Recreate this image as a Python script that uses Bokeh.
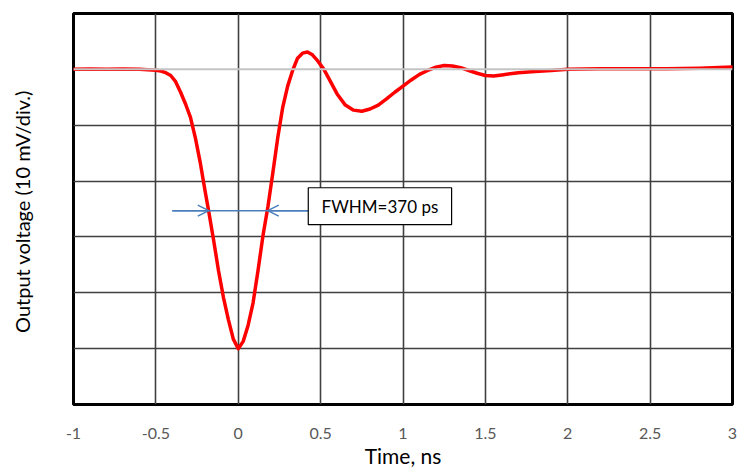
from bokeh.plotting import figure
from bokeh.models import (FixedTicker, Span, Arrow, OpenHead, BoxAnnotation, Label)
from bokeh.embed import file_html
from bokeh.resources import INLINE

# Data (time in ns, voltage in mV)
time_ns = [-1.0, -0.9, -0.8, -0.7, -0.6, -0.55, -0.5, -0.47, -0.44, -0.41, -0.38,
           -0.35, -0.32, -0.29, -0.26, -0.23, -0.2, -0.18, -0.15, -0.12, -0.09,
           -0.06, -0.03, 0.0, 0.03, 0.06, 0.09, 0.12, 0.15, 0.18, 0.21, 0.24,
           0.27, 0.30, 0.33, 0.36, 0.39, 0.42, 0.45, 0.48, 0.50, 0.52, 0.56,
           0.60, 0.65, 0.70, 0.75, 0.80, 0.85, 0.90, 0.95, 1.0, 1.05, 1.1,
           1.15, 1.2, 1.25, 1.3, 1.35, 1.4, 1.45, 1.5, 1.55, 1.6, 1.7, 1.8,
           1.9, 2.0, 2.2, 2.4, 2.6, 2.8, 3.0]
voltage_mv = [0.0, 0.05, 0.0, 0.05, 0.0, -0.05, -0.15, -0.3, -0.6, -1.1, -2.2,
              -4.1, -6.2, -8.6, -12.3, -16.8, -22.0, -25.3, -30.5, -36.0, -40.8,
              -44.8, -48.3, -50.0, -48.7, -45.8, -41.8, -36.0, -29.8, -24.6, -18.5, -12.2,
              -6.8, -3.0, -0.2, 2.0, 2.9, 3.1, 2.6, 1.6, 0.8, 0.0, -2.2,
              -4.4, -6.4, -7.3, -7.5, -7.1, -6.4, -5.3, -4.1, -3.0, -1.9, -0.9,
              -0.2, 0.4, 0.7, 0.6, 0.3, -0.2, -0.7, -1.1, -1.2, -1.0, -0.6, -0.4,
              -0.2, 0.0, 0.1, 0.1, 0.1, 0.2, 0.4]

x_ticks = [-1, -0.5, 0, 0.5, 1, 1.5, 2, 2.5, 3]
x_tick_labels = ["-1", "-0.5", "0", "0.5", "1", "1.5", "2", "2.5", "3"]
y_grid = [-60, -50, -40, -30, -20, -10, 0, 10]
half_max = -25.3
fwhm_left = -0.179
fwhm_right = 0.179
fwhm_text = "FWHM=370 ps"

FONT = "Lato"

p = figure(width=737, height=470, x_range=(-1, 3), y_range=(-60, 10),
           output_backend="svg", toolbar_location=None,
           min_border_left=73, min_border_right=5, min_border_top=13,
           min_border_bottom=66)

p.outline_line_color = "black"
p.outline_line_width = 3
p.background_fill_color = "white"
p.border_fill_color = "white"

# grids
p.xgrid.ticker = FixedTicker(ticks=x_ticks)
p.ygrid.ticker = FixedTicker(ticks=[v for v in y_grid if v != 0])
for g in (p.xgrid, p.ygrid):
    g.grid_line_color = "#404040"
    g.grid_line_width = 1.6

# zero line
p.add_layout(Span(location=0, dimension="width", line_color="#c4c4c4", line_width=2))

# x axis
xa = p.xaxis[0]
xa.ticker = FixedTicker(ticks=x_ticks)
xa.major_label_overrides = {t: l for t, l in zip(x_ticks, x_tick_labels)}
xa.major_tick_line_color = None
xa.minor_tick_line_color = None
xa.axis_line_color = None
xa.major_label_text_font = FONT
xa.major_label_text_font_size = "16px"
xa.major_label_text_color = "#595959"
xa.major_label_standoff = 17
xa.axis_label = "Time, ns"
xa.axis_label_text_font = FONT
xa.axis_label_text_font_size = "21px"
xa.axis_label_text_font_style = "normal"
xa.axis_label_text_color = "black"
xa.axis_label_standoff = 1

# y axis
ya = p.yaxis[0]
ya.ticker = FixedTicker(ticks=y_grid)
ya.major_label_overrides = {v: "" for v in y_grid}
ya.major_tick_line_color = None
ya.minor_tick_line_color = None
ya.axis_line_color = None
ya.major_label_text_font_size = "1px"
ya.axis_label = "Output voltage  (10 mV/div.)"
ya.axis_label_text_font = FONT
ya.axis_label_text_font_size = "20px"
ya.axis_label_text_font_style = "normal"
ya.axis_label_text_color = "black"
ya.axis_label_standoff = 34

# curve
p.line(time_ns, voltage_mv, line_color="#ff0000", line_width=3.5,
       line_join="round", line_cap="round")

# FWHM arrows
arrow_color = "#4a7ebb"
p.add_layout(Arrow(x_start=-0.40, y_start=half_max, x_end=0.425, y_end=half_max,
                   line_color=arrow_color, line_width=1.5, end=None))
p.add_layout(Arrow(x_start=-0.40, y_start=half_max, x_end=fwhm_left, y_end=half_max,
                   line_color=arrow_color, line_width=1.5,
                   end=OpenHead(size=11, line_color=arrow_color, line_width=1.5)))
p.add_layout(Arrow(x_start=0.425, y_start=half_max, x_end=fwhm_right, y_end=half_max,
                   line_color=arrow_color, line_width=1.5,
                   end=OpenHead(size=11, line_color=arrow_color, line_width=1.5)))

# label box
p.add_layout(BoxAnnotation(left=0.425, right=1.295, top=-21.2, bottom=-27.8,
                           fill_color="white", fill_alpha=1.0,
                           line_color="black", line_width=1.2, line_alpha=1.0))
p.add_layout(Label(x=0.86, y=-24.5, text=fwhm_text, text_align="center",
                   text_baseline="middle", text_font=FONT, text_font_size="17px",
                   text_color="black"))

open("out.html", "w").write(file_html(p, INLINE))
